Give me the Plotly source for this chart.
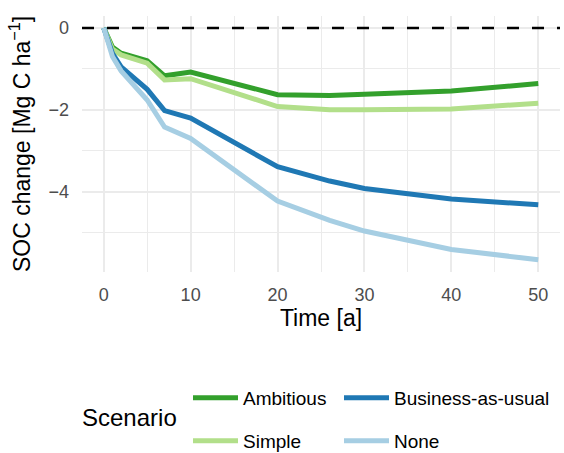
import plotly.graph_objects as go

time = [0, 1, 2, 5, 7, 10, 20, 26, 30, 40, 50]
ambitious = [0, -0.47, -0.62, -0.80, -1.17, -1.08, -1.63, -1.65, -1.62, -1.54, -1.36]
simple = [0, -0.52, -0.66, -0.86, -1.27, -1.24, -1.92, -2.00, -2.00, -1.98, -1.84]
bau = [0, -0.62, -0.95, -1.50, -2.02, -2.20, -3.39, -3.74, -3.92, -4.18, -4.32]
none_ = [0, -0.70, -1.05, -1.76, -2.42, -2.70, -4.23, -4.70, -4.96, -5.41, -5.66]

series = [
    ("Ambitious", ambitious, "#33a02c", "legend"),
    ("Simple", simple, "#b2df8a", "legend3"),
    ("Business-as-usual", bau, "#1f78b4", "legend2"),
    ("None", none_, "#a6cee3", "legend4"),
]

W, H = 564, 453
FONT = "Liberation Sans, Arial, sans-serif"

fig = go.Figure()
for name, vals, col, lg in series:
    fig.add_trace(go.Scatter(x=time, y=vals, mode="lines", name=name,
                             line=dict(color=col, width=5), legend=lg))

fig.add_hline(y=0, line=dict(color="black", width=2.5, dash="12px,13px"), layer="above")

grid = "#EBEBEB"
fig.update_xaxes(range=[-2.5, 52.5], tickvals=[0, 10, 20, 30, 40, 50], automargin=False,
                 showgrid=True, gridcolor=grid, gridwidth=2, zeroline=False,
                 showline=False, ticks="", ticklabelstandoff=10,
                 tickfont=dict(size=18, color="#4d4d4d", family=FONT),
                 minor=dict(tickvals=[5, 15, 25, 35, 45], showgrid=True, gridcolor=grid, gridwidth=1),
                 title=dict(text="Time [a]", font=dict(size=23, color="black", family=FONT), standoff=0))
fig.update_yaxes(range=[-5.96, 0.29], tickvals=[0, -2, -4], automargin=False,
                 showgrid=True, gridcolor=grid, gridwidth=2, zeroline=False,
                 showline=False, ticks="", ticklabelstandoff=12,
                 tickfont=dict(size=18, color="#4d4d4d", family=FONT),
                 minor=dict(tickvals=[-1, -3, -5], showgrid=True, gridcolor=grid, gridwidth=1),
                 title=dict(text="SOC change [Mg C ha<sup>−1</sup>]",
                            font=dict(size=23, color="black", family=FONT), standoff=11))

def leg(x, y):
    return dict(x=x, y=y, xref="container", yref="container", xanchor="left", yanchor="middle",
                orientation="h", bgcolor="rgba(0,0,0,0)", borderwidth=0,
                font=dict(size=19, color="black", family=FONT), itemwidth=45)

row1 = 1 - 398 / H
row2 = 1 - 441 / H
fig.update_layout(
    width=W, height=H,
    margin=dict(l=82, r=4, t=16, b=181),
    plot_bgcolor="white", paper_bgcolor="white",
    font=dict(family=FONT),
    showlegend=True,
    legend=leg(188 / W, row1),
    legend2=leg(339 / W, row1),
    legend3=leg(188 / W, row2),
    legend4=leg(339 / W, row2),
    annotations=[dict(text="Scenario", xref="paper", yref="paper",
                      x=(80 - 82) / 478, y=1 - (417 - 16) / 256, xanchor="left", yanchor="middle",
                      showarrow=False, font=dict(size=24, color="black", family=FONT))],
)

fig.write_html("out.html", config={"displayModeBar": False},
               post_script="document.body.style.margin='0';")
